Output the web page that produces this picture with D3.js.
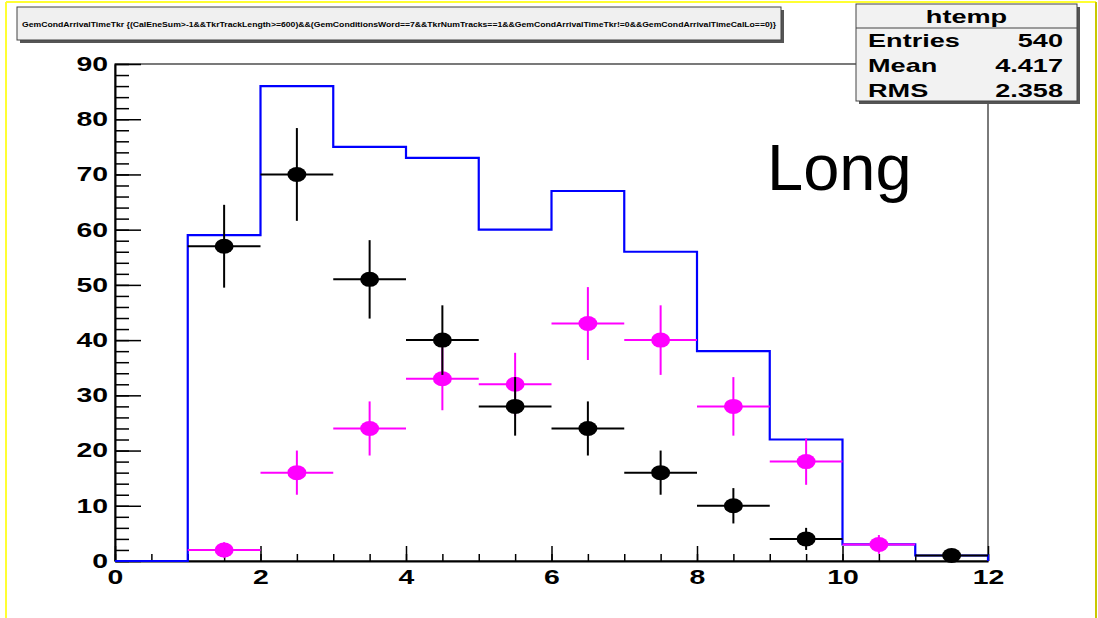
<!DOCTYPE html>
<html>
<head>
<meta charset="utf-8">
<script src="https://cdn.jsdelivr.net/npm/d3@7"></script>
<style>
body { margin: 0; background: #fff; }
text { font-family: "Liberation Sans", Arial, Helvetica, sans-serif; }
</style>
</head>
<body>
<svg id="chart" width="1098" height="618"></svg>
<script>
// histogram htemp (blue), one value per unit bin from 0 to 12
var binEdges = [0, 1, 2, 3, 4, 5, 6, 7, 8, 9, 10, 11, 12];
var totalCounts = [0, 59, 86, 75, 73, 60, 67, 56, 38, 22, 3, 1];

// black points
var blackX = [1.5, 2.5, 3.5, 4.5, 5.5, 6.5, 7.5, 8.5, 9.5, 11.5];
var blackY = [57, 70, 51, 40, 28, 24, 16, 10, 4, 1];
var blackErr = [7.5, 8.4, 7.1, 6.3, 5.3, 4.9, 4, 3.2, 2, 1];

// magenta points
var pinkX = [1.5, 2.5, 3.5, 4.5, 5.5, 6.5, 7.5, 8.5, 9.5, 10.5];
var pinkY = [2, 16, 24, 33, 32, 43, 40, 28, 18, 3];
var pinkErr = [1.4, 4, 4.9, 5.7, 5.7, 6.6, 6.3, 5.3, 4.2, 1.7];

var xTicks = [0, 2, 4, 6, 8, 10, 12];
var yTicks = [0, 10, 20, 30, 40, 50, 60, 70, 80, 90];

var statNames = ["Entries", "Mean", "RMS"];
var statValues = ["540", "4.417", "2.358"];

var titleText = "GemCondArrivalTimeTkr {(CalEneSum>-1&&TkrTrackLength>=600)&&(GemConditionsWord==7&&TkrNumTracks==1&&GemCondArrivalTimeTkr!=0&&GemCondArrivalTimeCalLo==0)}";

var svg = d3.select("#chart");
var stretch = 1.42; // the ROOT picture is stretched sideways

var x = d3.scaleLinear().domain([0, 12]).range([115, 988]);
var y = d3.scaleLinear().domain([0, 90]).range([561, 64]);

// yellow slide border
svg.append("line").attr("x1", 6).attr("x2", 1096).attr("y1", 2).attr("y2", 2)
    .attr("stroke", "#ffff33").attr("stroke-width", 2);
svg.append("line").attr("x1", 6).attr("x2", 6).attr("y1", 2).attr("y2", 618)
    .attr("stroke", "#ffff33").attr("stroke-width", 2);
svg.append("line").attr("x1", 1096).attr("x2", 1096).attr("y1", 2).attr("y2", 618)
    .attr("stroke", "#c8c800").attr("stroke-width", 2);

// frame
svg.append("rect")
    .attr("x", x(0)).attr("y", y(90))
    .attr("width", x(12) - x(0)).attr("height", y(0) - y(90))
    .attr("fill", "none").attr("stroke", "#222").attr("stroke-width", 1.2);

// minor ticks
svg.append("g").attr("transform", "translate(0," + y(0) + ")")
    .call(d3.axisBottom(x).tickValues(x.ticks(24)).tickSize(-7).tickFormat("").tickSizeOuter(0))
    .call(function(g) { g.select(".domain").remove(); });
svg.append("g").attr("transform", "translate(" + x(0) + ",0)")
    .call(d3.axisLeft(y).tickValues(y.ticks(45)).tickSize(-14).tickFormat("").tickSizeOuter(0))
    .call(function(g) { g.select(".domain").remove(); });

// major ticks + labels
var xAxis = svg.append("g").attr("transform", "translate(0," + y(0) + ")")
    .call(d3.axisBottom(x).tickValues(xTicks).tickSize(-15).tickPadding(9).tickSizeOuter(0));
var yAxis = svg.append("g").attr("transform", "translate(" + x(0) + ",0)")
    .call(d3.axisLeft(y).tickValues(yTicks).tickSize(-26).tickPadding(7).tickSizeOuter(0));

svg.selectAll(".tick line").attr("stroke", "#000").attr("stroke-width", 1.5);
svg.selectAll(".domain").attr("stroke", "#000").attr("stroke-width", 2);

xAxis.selectAll("text")
    .attr("font-size", 20).attr("font-weight", "bold").attr("fill", "#000")
    .attr("transform", "scale(" + stretch + ",1)");
yAxis.selectAll("text")
    .attr("font-size", 20).attr("font-weight", "bold").attr("fill", "#000")
    .attr("x", -7 / stretch)
    .attr("transform", "scale(" + stretch + ",1)");

// blue histogram outline
var steps = [[binEdges[0], 0]];
totalCounts.forEach(function(c, i) {
    steps.push([binEdges[i], c]);
    steps.push([binEdges[i + 1], c]);
});
steps.push([binEdges[binEdges.length - 1], 0]);

svg.append("path")
    .datum(steps)
    .attr("fill", "none")
    .attr("stroke", "#0000ff")
    .attr("stroke-width", 2.2)
    .attr("d", d3.line().x(function(d) { return x(d[0]); }).y(function(d) { return y(d[1]); }));

function drawPoints(xs, ys, errs, color) {
    var pts = xs.map(function(v, i) { return {x: v, y: ys[i], e: errs[i]}; });
    var g = svg.append("g");
    var p = g.selectAll("g").data(pts).enter().append("g");
    p.append("line")
        .attr("x1", function(d) { return x(d.x - 0.5); })
        .attr("x2", function(d) { return x(d.x + 0.5); })
        .attr("y1", function(d) { return y(d.y); })
        .attr("y2", function(d) { return y(d.y); })
        .attr("stroke", color).attr("stroke-width", 2);
    p.append("line")
        .attr("x1", function(d) { return x(d.x); })
        .attr("x2", function(d) { return x(d.x); })
        .attr("y1", function(d) { return y(Math.max(0, d.y - d.e)); })
        .attr("y2", function(d) { return y(d.y + d.e); })
        .attr("stroke", color).attr("stroke-width", 2);
    p.append("ellipse")
        .attr("cx", function(d) { return x(d.x); })
        .attr("cy", function(d) { return y(d.y); })
        .attr("rx", 9.5).attr("ry", 7.5)
        .attr("fill", color);
}

drawPoints(pinkX, pinkY, pinkErr, "#ff00ff");
drawPoints(blackX, blackY, blackErr, "#000000");

// "Long" label
svg.append("text")
    .attr("x", 767).attr("y", 190)
    .attr("font-size", 65)
    .attr("fill", "#000")
    .text("Long");

// title box
svg.append("rect").attr("x", 20).attr("y", 10).attr("width", 764).attr("height", 33).attr("fill", "#555");
svg.append("rect").attr("x", 17).attr("y", 7).attr("width", 764).attr("height", 33)
    .attr("fill", "#f0f0f0").attr("stroke", "#444").attr("stroke-width", 1);
svg.append("text")
    .attr("x", 22).attr("y", 26.5)
    .attr("font-size", 7).attr("font-weight", "bold")
    .attr("textLength", 754).attr("lengthAdjust", "spacingAndGlyphs")
    .text(titleText);

// stats box
var sx = 856, sy = 4, sw = 221, sh = 97;
svg.append("rect").attr("x", sx + 3).attr("y", sy + 3).attr("width", sw).attr("height", sh).attr("fill", "#555");
svg.append("rect").attr("x", sx).attr("y", sy).attr("width", sw).attr("height", sh)
    .attr("fill", "#f2f2f2").attr("stroke", "#444").attr("stroke-width", 1);
svg.append("line").attr("x1", sx).attr("x2", sx + sw).attr("y1", sy + 24).attr("y2", sy + 24)
    .attr("stroke", "#444").attr("stroke-width", 1);
svg.append("text")
    .attr("transform", "translate(" + (sx + sw / 2) + "," + (sy + 19) + ") scale(1.55,1)")
    .attr("text-anchor", "middle")
    .attr("font-size", 17.5).attr("font-weight", "bold")
    .text("htemp");
statNames.forEach(function(name, i) {
    var by = sy + 43 + i * 25;
    svg.append("text")
        .attr("transform", "translate(" + (sx + 12) + "," + by + ") scale(1.55,1)")
        .attr("font-size", 17.5).attr("font-weight", "bold")
        .text(name);
    svg.append("text")
        .attr("transform", "translate(" + (sx + sw - 14) + "," + by + ") scale(1.55,1)")
        .attr("text-anchor", "end")
        .attr("font-size", 17.5).attr("font-weight", "bold")
        .text(statValues[i]);
});
</script>
</body>
</html>
